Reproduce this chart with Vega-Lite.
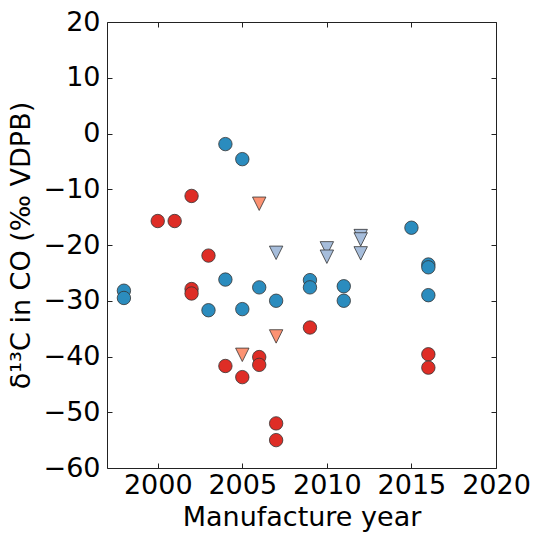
{
  "$schema": "https://vega.github.io/schema/vega-lite/v6.json",
  "autosize": "none",
  "width": 389,
  "height": 446,
  "padding": {"left": 107, "top": 22, "right": 38, "bottom": 65},
  "background": "white",
  "config": {
    "view": {"stroke": "#222", "strokeWidth": 1},
    "axis": {
      "grid": false,
      "domain": false,
      "tickColor": "#222",
      "tickSize": -5,
      "labelFont": "DejaVu Sans",
      "labelFontSize": 27,
      "labelColor": "black",
      "labelOverlap": false,
      "labelFlush": false,
      "labelBound": false,
      "titleFont": "DejaVu Sans",
      "titleFontSize": 27,
      "titleFontWeight": "normal",
      "titleColor": "black"
    }
  },
  "data": {
    "values": [
      {"year": 1998, "d13c": -28.2, "set": "A"},
      {"year": 1998, "d13c": -29.5, "set": "A"},
      {"year": 2003, "d13c": -31.7, "set": "A"},
      {"year": 2004, "d13c": -1.9, "set": "A"},
      {"year": 2004, "d13c": -26.2, "set": "A"},
      {"year": 2005, "d13c": -4.6, "set": "A"},
      {"year": 2005, "d13c": -31.5, "set": "A"},
      {"year": 2006, "d13c": -27.6, "set": "A"},
      {"year": 2007, "d13c": -30.0, "set": "A"},
      {"year": 2009, "d13c": -26.3, "set": "A"},
      {"year": 2009, "d13c": -27.6, "set": "A"},
      {"year": 2011, "d13c": -27.4, "set": "A"},
      {"year": 2011, "d13c": -30.0, "set": "A"},
      {"year": 2015, "d13c": -16.9, "set": "A"},
      {"year": 2016, "d13c": -23.5, "set": "A"},
      {"year": 2016, "d13c": -24.0, "set": "A"},
      {"year": 2016, "d13c": -29.0, "set": "A"},
      {"year": 2000, "d13c": -15.7, "set": "B"},
      {"year": 2001, "d13c": -15.7, "set": "B"},
      {"year": 2002, "d13c": -11.2, "set": "B"},
      {"year": 2002, "d13c": -27.9, "set": "B"},
      {"year": 2002, "d13c": -28.7, "set": "B"},
      {"year": 2003, "d13c": -21.9, "set": "B"},
      {"year": 2004, "d13c": -41.7, "set": "B"},
      {"year": 2005, "d13c": -43.7, "set": "B"},
      {"year": 2006, "d13c": -40.1, "set": "B"},
      {"year": 2006, "d13c": -41.5, "set": "B"},
      {"year": 2007, "d13c": -52.0, "set": "B"},
      {"year": 2007, "d13c": -55.0, "set": "B"},
      {"year": 2009, "d13c": -34.8, "set": "B"},
      {"year": 2016, "d13c": -39.6, "set": "B"},
      {"year": 2016, "d13c": -42.0, "set": "B"},
      {"year": 2005, "d13c": -39.7, "set": "C"},
      {"year": 2006, "d13c": -12.6, "set": "C"},
      {"year": 2007, "d13c": -36.4, "set": "C"},
      {"year": 2007, "d13c": -21.4, "set": "D"},
      {"year": 2010, "d13c": -20.6, "set": "D"},
      {"year": 2010, "d13c": -22.1, "set": "D"},
      {"year": 2012, "d13c": -18.4, "set": "D"},
      {"year": 2012, "d13c": -19.0, "set": "D"},
      {"year": 2012, "d13c": -21.5, "set": "D"}
    ]
  },
  "resolve": {"axis": {"x": "independent", "y": "independent"}},
  "layer": [
    {
      "mark": {"type": "point", "filled": true, "opacity": 1, "stroke": "#333", "strokeWidth": 0.8},
      "encoding": {
        "x": {
          "field": "year", "type": "quantitative",
          "scale": {"domain": [1997, 2020], "nice": false, "zero": false},
          "axis": {"orient": "bottom", "values": [2000, 2005, 2010, 2015, 2020], "format": "d", "labelPadding": 9, "title": "Manufacture year", "titlePadding": 6}
        },
        "y": {
          "field": "d13c", "type": "quantitative",
          "scale": {"domain": [-60, 20], "nice": false, "zero": false},
          "axis": {"orient": "left", "values": [-60, -50, -40, -30, -20, -10, 0, 10, 20], "format": "d", "labelPadding": 12, "title": "δ¹³C in CO (‰ VDPB)", "titlePadding": 8}
        },
        "shape": {
          "field": "set", "type": "nominal",
          "scale": {"domain": ["A", "B", "C", "D"], "range": ["circle", "circle", "M0,1L-1,-1L1,-1Z", "M0,1L-1,-1L1,-1Z"]},
          "legend": null
        },
        "fill": {
          "field": "set", "type": "nominal",
          "scale": {"domain": ["A", "B", "C", "D"], "range": ["#2b8cbe", "#de2d26", "#fc9272", "#a6bddb"]},
          "legend": null
        },
        "size": {
          "field": "set", "type": "nominal",
          "scale": {"domain": ["A", "B", "C", "D"], "range": [180, 180, 185, 185]},
          "legend": null
        }
      }
    },
    {
      "mark": {"type": "point", "opacity": 0},
      "encoding": {
        "x": {
          "field": "year", "type": "quantitative",
          "axis": {"orient": "top", "values": [2000, 2005, 2010, 2015, 2020], "labels": false, "title": null}
        },
        "y": {
          "field": "d13c", "type": "quantitative",
          "axis": {"orient": "right", "values": [-60, -50, -40, -30, -20, -10, 0, 10, 20], "labels": false, "title": null}
        }
      }
    }
  ]
}
